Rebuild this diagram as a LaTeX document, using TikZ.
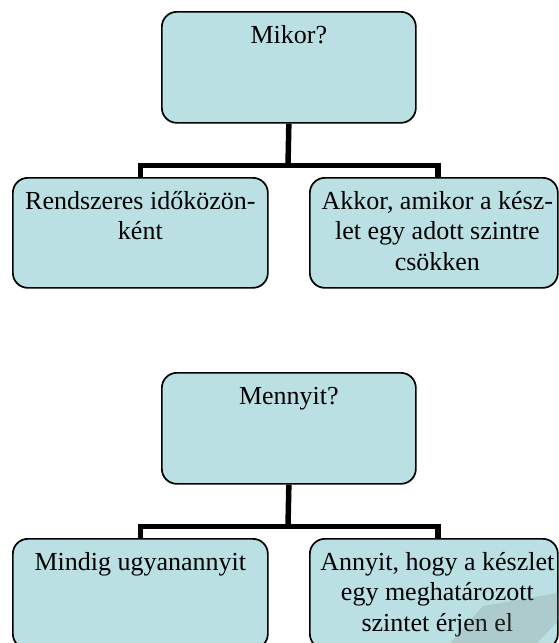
\documentclass[tikz,border=0pt]{standalone}
\usepackage{fontspec}
\setmainfont{Liberation Serif}
\definecolor{boxfill}{RGB}{186,224,227}
\tikzset{
  box/.style={draw=black, line width=1.7pt, fill=boxfill, rounded corners=15pt,
    inner sep=0pt, anchor=north west},
  conn/.style={draw=black, line width=5.5pt, line join=miter},
  wmark/.style={fill=gray, fill opacity=0.22},
}
\newcommand{\boxtext}[3]{\parbox[c][#1pt][t]{#2pt}{\fontsize{26}{30.5}\selectfont\centering\rule{0pt}{31.5pt}#3\par}}
\begin{document}
\begin{tikzpicture}[x=1pt,y=-1pt]
\useasboundingbox (0,0) rectangle (558,643);
% --- Mikor? ---
\node[box] (m1) at (161,11) {\boxtext{111}{254}{Mikor?}};
\node[box] (c1l) at (12,177) {\boxtext{110}{255}{Rendszeres időközön-\\ként}};
\node[box] (c1r) at (309,177) {\boxtext{110}{248}{\leftskip=7pt plus 1fil Akkor, amikor a kész-\\let egy adott szintre\\csökken}};
\coordinate (j1) at (288,165.5);
\draw[conn] (m1.south) -- (j1);
\draw[conn] (c1l.north) |- (j1) -| ([xshift=4pt]c1r.north);
% --- Mennyit? ---
\node[box] (m2) at (161,372) {\boxtext{111}{254}{Mennyit?}};
\node[box] (c2l) at (12,538) {\boxtext{110}{255}{Mindig ugyanannyit}};
\node[box] (c2r) at (309,538) {\boxtext{110}{248}{\leftskip=7pt plus 1fil Annyit, hogy a készlet\\egy meghatározott\\szintet érjen el}};
\coordinate (j2) at (288,526.5);
\draw[conn] (m2.south) -- (j2);
\draw[conn] (c2l.north) |- (j2) -| ([xshift=4pt]c2r.north);
% faint watermark shape
\fill[wmark] (483,606) -- (558,593) -- (558,621) -- (537,643) -- (450,643) -- cycle;
\end{tikzpicture}
\end{document}
